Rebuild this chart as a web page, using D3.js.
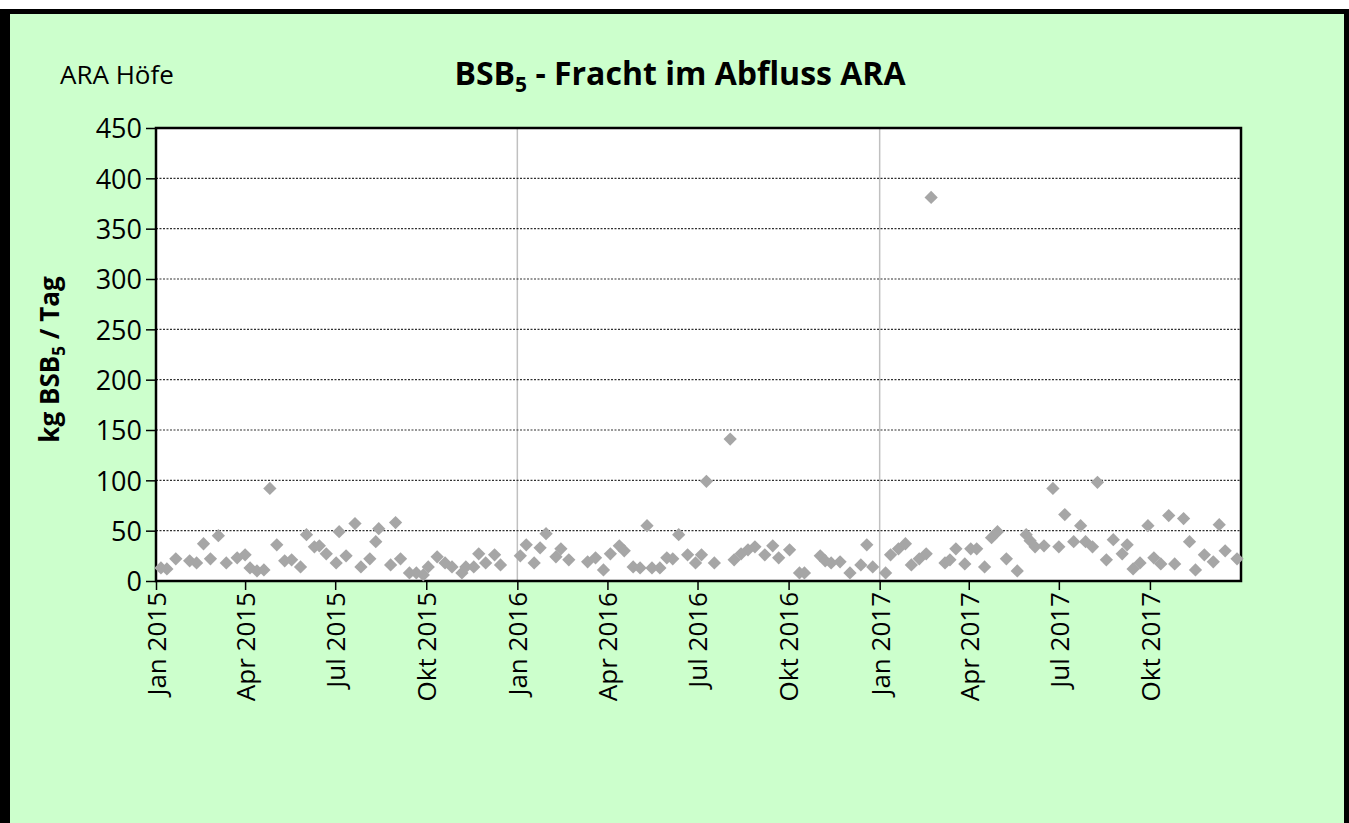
<!DOCTYPE html>
<html>
<head>
<meta charset="utf-8">
<script src="https://cdn.jsdelivr.net/npm/d3@7"></script>
<style>
  html, body { margin: 0; padding: 0; background: #fff; }
  svg { display: block; }
  text { font-family: "Open Sans", "DejaVu Sans", sans-serif; fill: #000; }
</style>
</head>
<body>
<svg width="1349" height="823"></svg>
<script>
"use strict";

// Messdaten: Datum der Probe und BSB5-Fracht (kg/Tag)
const sampleDates = [
  "2015-01-06","2015-01-12","2015-01-21","2015-02-04","2015-02-11","2015-02-18","2015-02-25","2015-03-05",
  "2015-03-13","2015-03-24","2015-04-01","2015-04-06","2015-04-13","2015-04-20","2015-04-26","2015-05-03",
  "2015-05-11","2015-05-18","2015-05-27","2015-06-02","2015-06-10","2015-06-15","2015-06-22","2015-07-02",
  "2015-07-05","2015-07-12","2015-07-21","2015-07-27","2015-08-05","2015-08-11","2015-08-14","2015-08-26",
  "2015-08-31","2015-09-05","2015-09-14","2015-09-21","2015-09-28","2015-10-03","2015-10-12","2015-10-20",
  "2015-10-27","2015-11-06","2015-11-10","2015-11-18","2015-11-23","2015-11-30","2015-12-09","2015-12-15",
  "2016-01-04","2016-01-10","2016-01-18","2016-01-24","2016-01-30","2016-02-09","2016-02-14","2016-02-22",
  "2016-03-12","2016-03-20","2016-03-28","2016-04-04","2016-04-13","2016-04-18","2016-04-27","2016-05-04",
  "2016-05-11","2016-05-16","2016-05-24","2016-05-31","2016-06-06","2016-06-12","2016-06-21","2016-06-29",
  "2016-07-05","2016-07-10","2016-07-18","2016-08-03","2016-08-07","2016-08-14","2016-08-21","2016-08-28",
  "2016-09-07","2016-09-15","2016-09-21","2016-10-02","2016-10-12","2016-10-17","2016-11-02","2016-11-07",
  "2016-11-13","2016-11-22","2016-12-02","2016-12-13","2016-12-19","2016-12-25","2017-01-07","2017-01-12",
  "2017-01-20","2017-01-27","2017-02-02","2017-02-10","2017-02-17","2017-02-22","2017-03-08","2017-03-13",
  "2017-03-19","2017-03-28","2017-04-03","2017-04-09","2017-04-17","2017-04-24","2017-04-30","2017-05-09",
  "2017-05-20","2017-05-29","2017-06-02","2017-06-07","2017-06-16","2017-06-25","2017-07-01","2017-07-07",
  "2017-07-16","2017-07-23","2017-07-28","2017-08-04","2017-08-09","2017-08-18","2017-08-25","2017-09-03",
  "2017-09-08","2017-09-14","2017-09-21","2017-09-29","2017-10-05","2017-10-12","2017-10-20","2017-10-26",
  "2017-11-04","2017-11-10","2017-11-16","2017-11-25","2017-12-04","2017-12-10","2017-12-16","2017-12-28"
];
const bsbValues = [
  13, 12, 22, 20, 18, 37, 22, 45,
  18, 23, 26, 13, 10, 11, 92, 36,
  20, 21, 14, 46, 34, 35, 27, 18,
  49, 25, 57, 14, 22, 39, 52, 16,
  58, 22, 8, 8, 6, 14, 24, 18,
  14, 8, 14, 14, 27, 18, 26, 16,
  25, 36, 18, 33, 47, 24, 32, 21,
  19, 23, 11, 27, 35, 30, 14, 13,
  55, 13, 13, 23, 22, 46, 26, 18,
  26, 99, 18, 141, 21, 27, 31, 34,
  26, 35, 23, 31, 8, 8, 25, 20,
  18, 19, 8, 16, 36, 14, 8, 26,
  32, 37, 16, 22, 27, 381, 18, 21,
  32, 17, 32, 32, 14, 43, 49, 22,
  10, 46, 40, 34, 35, 92, 34, 66,
  39, 55, 39, 34, 98, 21, 41, 27,
  36, 12, 18, 55, 23, 17, 65, 17,
  62, 39, 11, 26, 19, 56, 30, 22
];

// Achsen
const yTicks = [0, 50, 100, 150, 200, 250, 300, 350, 400, 450];
const quarterNames = ["Jan", "Apr", "Jul", "Okt"];
const yearLines = ["2016-01-01", "2017-01-01"];

const parse = d3.timeParse("%Y-%m-%d");
const data = sampleDates.map((d, i) => ({ date: parse(d), value: bsbValues[i] }));

const svg = d3.select("svg");

// Hintergrund und Rahmen
svg.append("rect").attr("x", 0).attr("y", 9).attr("width", 1349).attr("height", 814)
  .attr("fill", "#000");
svg.append("rect").attr("x", 10).attr("y", 14).attr("width", 1334).attr("height", 809)
  .attr("fill", "#ccffcc");

const plot = { left: 156, right: 1241, top: 128, bottom: 581 };

const x = d3.scaleTime()
  .domain([parse("2015-01-01"), parse("2018-01-01")])
  .range([plot.left, plot.right]);
const y = d3.scaleLinear()
  .domain([0, 450])
  .range([plot.bottom, plot.top]);

svg.append("rect")
  .attr("x", plot.left).attr("y", plot.top)
  .attr("width", plot.right - plot.left).attr("height", plot.bottom - plot.top)
  .attr("fill", "#fff");

// vertikale Jahreslinien
svg.append("g").selectAll("line")
  .data(yearLines.map(parse))
  .join("line")
  .attr("x1", d => x(d)).attr("x2", d => x(d))
  .attr("y1", plot.top).attr("y2", plot.bottom)
  .attr("stroke", "#c0c0c0").attr("stroke-width", 1.5);

// horizontale Gitterlinien gestrichelt
svg.append("g").selectAll("line")
  .data(yTicks.filter(v => v > 0 && v < 450))
  .join("line")
  .attr("x1", plot.left).attr("x2", plot.right)
  .attr("y1", d => y(d)).attr("y2", d => y(d))
  .attr("stroke", "#303030").attr("stroke-width", 1.2)
  .attr("stroke-dasharray", "2,1.5");

// Y-Achse
const yAxis = svg.append("g")
  .attr("transform", `translate(${plot.left},0)`)
  .call(d3.axisLeft(y).tickValues(yTicks).tickSize(10).tickPadding(4));
yAxis.select(".domain").remove();
yAxis.selectAll(".tick line").attr("stroke", "#000").attr("stroke-width", 1.5);
yAxis.selectAll(".tick text")
  .style("font-size", "27px").style("font-family", "'Open Sans', sans-serif")
  .attr("dy", "0.36em");

// X-Achse (Quartale, ohne Jan 2018)
const quarterTicks = d3.timeMonth.every(3).range(parse("2015-01-01"), parse("2018-01-01"));
const xAxis = svg.append("g")
  .attr("transform", `translate(0,${plot.bottom})`)
  .call(d3.axisBottom(x)
    .tickValues(quarterTicks)
    .tickSize(9)
    .tickFormat(d => quarterNames[Math.floor(d.getMonth() / 3)] + " " + d.getFullYear()));
xAxis.select(".domain").remove();
xAxis.selectAll(".tick line").attr("stroke", "#000").attr("stroke-width", 1.5);
xAxis.selectAll(".tick text")
  .style("font-size", "26px").style("font-family", "'Open Sans', sans-serif")
  .attr("text-anchor", "end")
  .attr("transform", "rotate(-90)")
  .attr("x", -11).attr("y", 0).attr("dy", "0.36em");

// Plotrahmen
svg.append("rect")
  .attr("x", plot.left).attr("y", plot.top)
  .attr("width", plot.right - plot.left).attr("height", plot.bottom - plot.top)
  .attr("fill", "none").attr("stroke", "#000").attr("stroke-width", 2.5);

// Messpunkte als Rauten
const diamond = d3.symbol().type(d3.symbolSquare).size(88);
svg.append("g").selectAll("path")
  .data(data)
  .join("path")
  .attr("d", diamond)
  .attr("transform", d => `translate(${x(d.date)},${y(d.value)}) rotate(45)`)
  .attr("fill", "#a6a6a6");

// Titel
const title = svg.append("text")
  .attr("x", 680).attr("y", 85)
  .attr("text-anchor", "middle")
  .style("font-size", "32px").style("font-weight", "bold");
title.append("tspan").text("BSB");
title.append("tspan").text("5").attr("dy", 7).style("font-size", "21px");
title.append("tspan").text(" - Fracht im Abfluss ARA").attr("dy", -7);

svg.append("text")
  .attr("x", 60).attr("y", 84)
  .style("font-size", "26px")
  .text("ARA Höfe");

// Y-Achsentitel
const yTitle = svg.append("text")
  .attr("transform", `translate(59,${(plot.top + plot.bottom) / 2 + 5}) rotate(-90)`)
  .attr("text-anchor", "middle")
  .style("font-size", "26px").style("font-weight", "bold");
yTitle.append("tspan").text("kg BSB");
yTitle.append("tspan").text("5").attr("dy", 6).style("font-size", "17px");
yTitle.append("tspan").text(" / Tag").attr("dy", -6);
</script>
</body>
</html>
